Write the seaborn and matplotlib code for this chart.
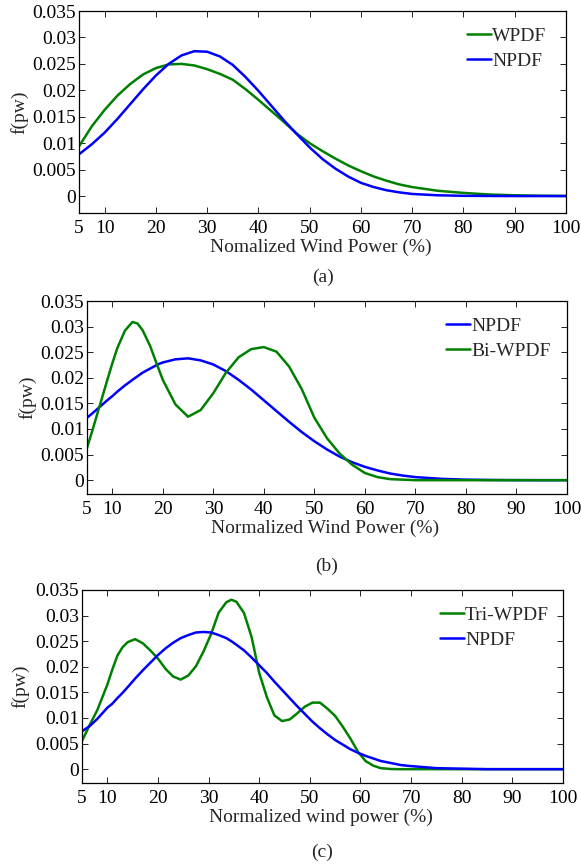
import numpy as np
import pandas as pd
import seaborn as sns
import matplotlib.pyplot as plt

# values (x = normalized wind power %, y = pdf)

# (a)
xa = [5, 7.5, 10, 12.5, 15, 17.5, 20, 22.5, 25, 27.5, 30, 32.5, 35, 37.5, 40, 42.5, 45,
      47.5, 50, 52.5, 55, 57.5, 60, 62.5, 65, 67.5, 70, 75, 80, 85, 90, 95, 100]
wpdf_a = [0.0094, 0.0132, 0.0163, 0.0190, 0.0212, 0.0230, 0.0242, 0.0249, 0.0250, 0.0247,
          0.0240, 0.0231, 0.0220, 0.0202, 0.0182, 0.0161, 0.0140, 0.0118, 0.0100, 0.0085,
          0.0071, 0.0058, 0.0047, 0.0037, 0.0029, 0.0022, 0.0017, 0.0010, 0.0006, 0.0003,
          0.00015, 0.00007, 0.00003]
npdf_a = [0.0079, 0.0098, 0.0120, 0.0146, 0.0174, 0.0202, 0.0228, 0.0250, 0.0266, 0.0274,
          0.0273, 0.0264, 0.0248, 0.0225, 0.0199, 0.0171, 0.0143, 0.0117, 0.0092, 0.0070,
          0.0052, 0.0037, 0.0025, 0.0017, 0.0011, 0.0007, 0.0004, 0.00015, 0.00005, 0.00002,
          0.0, 0.0, 0.0]

# (b)
xb = [5, 6, 7.5, 9, 10, 11, 12.5, 14, 15, 16, 17.5, 19, 20, 22.5, 25, 27.5, 30, 32.5, 35,
      37.5, 40, 42.5, 45, 47.5, 50, 52.5, 55, 57.5, 60, 62.5, 65, 67.5, 70, 75, 80, 85, 90,
      95, 100]
npdf_b = [0.0122, 0.0130, 0.0143, 0.0156, 0.0164, 0.0173, 0.0185, 0.0196, 0.0203, 0.0210,
          0.0218, 0.0226, 0.0230, 0.0236, 0.0238, 0.0234, 0.0226, 0.0213, 0.0196, 0.0177,
          0.0156, 0.0135, 0.0114, 0.0094, 0.0076, 0.0060, 0.0046, 0.0035, 0.0026, 0.0019,
          0.0013, 0.0009, 0.0006, 0.00027, 0.0001, 0.00004, 0.00001, 0.0, 0.0]
biwpdf_b = [0.0063, 0.0095, 0.0145, 0.0195, 0.0228, 0.0258, 0.0292, 0.0309, 0.0306, 0.0293,
            0.0262, 0.0222, 0.0196, 0.0148, 0.0124, 0.0137, 0.0170, 0.0210, 0.0240, 0.0256,
            0.0260, 0.0251, 0.0222, 0.0178, 0.0122, 0.0082, 0.0052, 0.0030, 0.0014, 0.0006,
            0.0002, 0.0001, 0.0, 0.0, 0.0, 0.0, 0.0, 0.0, 0.0]

# (c)
xc = [5, 6.5, 8, 10, 11, 12, 13, 14, 15.5, 17, 18.5, 20, 21.5, 23, 24.5, 26, 27.5, 29,
      30.5, 32, 33.5, 34.5, 35.5, 37, 38.5, 40, 41.5, 43, 44.5, 46, 47.5, 49, 50.5, 52,
      53.5, 55, 56.5, 58, 59.5, 61, 62.5, 64, 66, 68, 70, 75, 80, 85, 90, 95, 100]
triwpdf_c = [0.0055, 0.0086, 0.0115, 0.0165, 0.0195, 0.0222, 0.0238, 0.0248, 0.0254,
             0.0246, 0.0232, 0.0216, 0.0196, 0.0181, 0.0175, 0.0183, 0.0201, 0.0230,
             0.0264, 0.0306, 0.0326, 0.0331, 0.0327, 0.0305, 0.0258, 0.0188, 0.0141,
             0.0105, 0.0094, 0.0097, 0.0109, 0.0122, 0.0130, 0.0130, 0.0118, 0.0104,
             0.0083, 0.0060, 0.0034, 0.0016, 0.0007, 0.0002, 0.00003, 0.0, 0.0, 0.0,
             0.0, 0.0, 0.0, 0.0, 0.0]
npdf_c = [0.0074, 0.0084, 0.0098, 0.0120, 0.0128, 0.0139, 0.0149, 0.0160, 0.0177, 0.0193,
          0.0208, 0.0223, 0.0236, 0.0247, 0.0256, 0.0262, 0.0267, 0.0268, 0.0267, 0.0262,
          0.0256, 0.0250, 0.0243, 0.0232, 0.0218, 0.0203, 0.0188, 0.0171, 0.0155, 0.0139,
          0.0123, 0.0108, 0.0093, 0.0080, 0.0068, 0.0057, 0.0048, 0.0039, 0.0032, 0.0026,
          0.0021, 0.0016, 0.0012, 0.0008, 0.0006, 0.0002, 0.0001, 0.0, 0.0, 0.0, 0.0]

xticks = [5, 10, 20, 30, 40, 50, 60, 70, 80, 90, 100]
yticks = [0, 0.005, 0.01, 0.015, 0.02, 0.025, 0.03, 0.035]
ytick_labels = ['0', '0.005', '0.01', '0.015', '0.02', '0.025', '0.03', '0.035']

GREEN = '#008000'
BLUE = '#0000ff'

sns.set_style('ticks')
plt.rcParams['font.family'] = ['Liberation Serif', 'DejaVu Serif']

fig = plt.figure(figsize=(5.81, 8.68), dpi=100)

# panel boxes in pixels: left, right, top, bottom
boxes = [(79, 566, 11, 213), (87, 567, 301, 494), (82, 563, 590, 783)]
W, H = 581, 868

panels = [
    dict(x=xa, series=[('WPDF', wpdf_a, GREEN), ('NPDF', npdf_a, BLUE)],
         xlabel='Nomalized Wind Power (%)', ymin=-0.0032, cap='(a)', cap_y=277,
         leg=(0.797, 0.918), ylab_x=19),
    dict(x=xb, series=[('NPDF', npdf_b, BLUE), ('Bi-WPDF', biwpdf_b, GREEN)],
         xlabel='Normalized Wind Power (%)', ymin=-0.0027, cap='(b)', cap_y=566,
         leg=(0.748, 0.914), ylab_x=27),
    dict(x=xc, series=[('Tri-WPDF', triwpdf_c, GREEN), ('NPDF', npdf_c, BLUE)],
         xlabel='Normalized wind power (%)', ymin=-0.0027, cap='(c)', cap_y=852,
         leg=(0.744, 0.914), ylab_x=20),
]

for (l, r, t, b), p in zip(boxes, panels):
    ax = fig.add_axes([l / W, 1 - b / H, (r - l) / W, (b - t) / H])
    for name, vals, col in p['series']:
        df = pd.DataFrame({'x': p['x'], 'y': vals})
        sns.lineplot(data=df, x='x', y='y', color=col, linewidth=1.8, label=name, ax=ax)
    ax.set_xlim(5, 100)
    ax.set_ylim(p['ymin'], 0.035)
    ax.set_xticks(xticks)
    ax.set_xticklabels([str(v) for v in xticks])
    ax.set_yticks(yticks)
    ax.set_yticklabels(ytick_labels)
    ax.tick_params(direction='in', length=4.5, width=0.6, top=True, right=True,
                   labelsize=14, colors='black')
    ax.tick_params(axis='x', pad=5)
    ax.tick_params(axis='y', pad=2)
    for s in ax.spines.values():
        s.set_visible(True)
        s.set_linewidth(0.9)
        s.set_color('black')
    ax.set_xlabel(p['xlabel'], fontsize=14, va='center')
    ax.xaxis.set_label_coords(0.497, -34 / (b - t))
    ax.set_ylabel('f(pw)', fontsize=14, va='center')
    ax.yaxis.set_label_coords(-(l - p['ylab_x']) / (r - l), 0.5)
    ax.grid(False)
    ax.legend(loc='upper left', bbox_to_anchor=p['leg'], frameon=False, fontsize=14,
              handlelength=1.25, handletextpad=0.05, labelspacing=0.35,
              borderpad=0, borderaxespad=0)
    fig.text(0.5 * (l + r) / W, 1 - p['cap_y'] / H, p['cap'], ha='center',
             va='center', fontsize=14)

fig.savefig('out.png', dpi=100)
